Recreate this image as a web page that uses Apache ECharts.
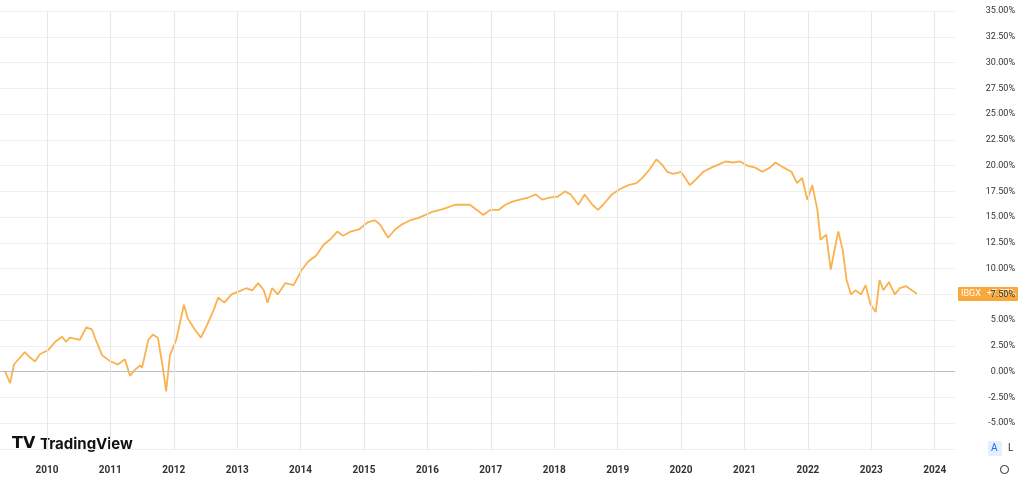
<!DOCTYPE html>
<html>
<head>
<meta charset="utf-8">
<script src="https://cdn.jsdelivr.net/npm/echarts@6/dist/echarts.min.js"></script>
<style>
  html, body { margin: 0; padding: 0; background: #fff; }
  #chart { width: 1024px; height: 485px; }
</style>
</head>
<body>
<div id="chart"></div>
<script>
// 时间 (年份小数)
var years = [2009.34, 2009.42, 2009.48, 2009.58, 2009.65, 2009.73, 2009.81, 2009.89, 2010.02, 2010.13,
  2010.24, 2010.3, 2010.36, 2010.52, 2010.62, 2010.71, 2010.77, 2010.87, 2011.0, 2011.12,
  2011.23, 2011.31, 2011.39, 2011.47, 2011.5, 2011.6, 2011.67, 2011.75, 2011.82, 2011.88,
  2011.94, 2012.04, 2012.1, 2012.16, 2012.22, 2012.33, 2012.43, 2012.53, 2012.63, 2012.7,
  2012.8, 2012.91, 2013.03, 2013.14, 2013.24, 2013.33, 2013.42, 2013.48, 2013.55, 2013.64,
  2013.76, 2013.89, 2014.02, 2014.12, 2014.25, 2014.36, 2014.46, 2014.58, 2014.67, 2014.79,
  2014.92, 2015.06, 2015.17, 2015.25, 2015.38, 2015.49, 2015.6, 2015.73, 2015.85, 2015.96,
  2016.07, 2016.2, 2016.3, 2016.43, 2016.54, 2016.67, 2016.78, 2016.88, 2016.99, 2017.12,
  2017.23, 2017.34, 2017.46, 2017.59, 2017.71, 2017.81, 2017.92, 2018.06, 2018.17, 2018.26,
  2018.38, 2018.48, 2018.6, 2018.69, 2018.77, 2018.91, 2019.03, 2019.17, 2019.3, 2019.39,
  2019.5, 2019.61, 2019.7, 2019.78, 2019.88, 2020.0, 2020.14, 2020.26, 2020.35, 2020.48,
  2020.59, 2020.7, 2020.82, 2020.93, 2021.04, 2021.17, 2021.28, 2021.4, 2021.49, 2021.62,
  2021.74, 2021.83, 2021.91, 2021.99, 2022.07, 2022.15, 2022.2, 2022.29, 2022.36, 2022.42,
  2022.48, 2022.55, 2022.61, 2022.68, 2022.75, 2022.84, 2022.91, 2022.99, 2023.07, 2023.13,
  2023.19, 2023.28, 2023.37, 2023.45, 2023.55, 2023.64, 2023.72];
// IBGX 涨跌幅 (%)
var values = [0.0, -1.1, 0.7, 1.4, 1.9, 1.4, 1.0, 1.7, 2.1, 2.9,
  3.4, 2.9, 3.3, 3.1, 4.3, 4.1, 3.1, 1.6, 1.0, 0.7,
  1.2, -0.4, 0.2, 0.6, 0.4, 3.1, 3.6, 3.3, 0.7, -1.9,
  1.6, 3.1, 4.8, 6.5, 5.2, 4.1, 3.3, 4.6, 6.0, 7.2,
  6.7, 7.5, 7.8, 8.1, 7.9, 8.6, 7.9, 6.7, 8.1, 7.5,
  8.6, 8.4, 9.9, 10.7, 11.3, 12.3, 12.8, 13.6, 13.2, 13.6,
  13.8, 14.5, 14.7, 14.3, 13.0, 13.8, 14.3, 14.7, 14.9, 15.2,
  15.5, 15.7, 15.9, 16.2, 16.2, 16.2, 15.7, 15.2, 15.7, 15.7,
  16.2, 16.5, 16.7, 16.9, 17.2, 16.7, 16.9, 17.0, 17.5, 17.2,
  16.2, 17.2, 16.2, 15.7, 16.2, 17.2, 17.7, 18.1, 18.3, 18.8,
  19.6, 20.6, 20.1, 19.4, 19.2, 19.4, 18.1, 18.8, 19.4, 19.8,
  20.1, 20.4, 20.3, 20.4, 20.0, 19.8, 19.4, 19.8, 20.3, 19.8,
  19.4, 18.3, 18.8, 16.7, 18.1, 15.7, 12.8, 13.3, 9.9, 11.8,
  13.6, 11.8, 8.9, 7.5, 7.9, 7.5, 8.4, 6.5, 5.8, 8.9,
  7.9, 8.7, 7.5, 8.1, 8.3, 7.9, 7.57];
var yearTicks = [2010, 2011, 2012, 2013, 2014, 2015, 2016, 2017, 2018, 2019, 2020, 2021, 2022, 2023, 2024];
var lastLabel = 'IBGX  +7.57%';

var data = years.map(function (y, i) { return [y, values[i]]; });

var myChart = echarts.init(document.getElementById('chart'));
var option = {
    animation: false,
    backgroundColor: '#fff',
    grid: {
        left: 0,
        right: 69,
        top: 11,
        bottom: 36
    },
    xAxis: {
        type: 'value',
        min: 2009.26,
        max: 2024.32,
        axisLine: { show: false },
        axisTick: { show: false },
        axisLabel: {
            customValues: yearTicks,
            margin: 16,
            fontSize: 10,
            fontWeight: 'bold',
            color: '#333',
            fontFamily: 'Roboto',
            formatter: function (v) { return String(Math.round(v)); }
        },
        splitLine: { show: false }
    },
    yAxis: {
        type: 'value',
        position: 'right',
        min: -7.5,
        max: 35,
        interval: 2.5,
        axisLine: { show: false },
        axisTick: { show: false },
        axisLabel: {
            margin: 60,
            align: 'right',
            fontSize: 9,
            color: '#333',
            fontFamily: 'Roboto',
            formatter: function (v) {
                return (v === -7.5) ? '' : v.toFixed(2) + '%';
            }
        },
        splitLine: { lineStyle: { color: '#eeeeee' } }
    },
    series: [{
        type: 'line',
        data: data,
        showSymbol: false,
        lineStyle: { color: '#f9b24e', width: 1.8 },
        z: 3,
        markLine: {
            silent: true,
            symbol: 'none',
            label: { show: false },
            lineStyle: { color: '#bdbdbd', type: 'solid', width: 1 },
            data: [{ yAxis: 0 }]
        }
    }, {
        type: 'line',
        data: [],
        z: 1,
        markLine: {
            silent: true,
            symbol: 'none',
            label: { show: false },
            lineStyle: { color: '#e6e6e6', type: 'solid', width: 1 },
            data: yearTicks.map(function (y) { return { xAxis: y }; })
        }
    }],
    graphic: [
        { type: 'rect', left: 958, top: 287, shape: { width: 60, height: 14 }, style: { fill: '#f9a83a' } },
        { type: 'text', left: 961, top: 289, style: { text: 'IBGX', fill: '#fff', fontSize: 9, fontFamily: 'Roboto' } },
        { type: 'text', right: 8, top: 289, style: { text: '+7.57%', fill: '#fff', fontSize: 9, fontFamily: 'Roboto' } },
        { type: 'text', left: 12, top: 436, style: { text: 'TV', fill: '#111', fontSize: 16, fontWeight: 'bold', fontFamily: 'DejaVu Sans' } },
        { type: 'text', left: 40, top: 437, style: { text: 'TradingView', fill: '#111', fontSize: 15, fontWeight: 'bold', fontFamily: 'Inter' } },
        { type: 'rect', left: 988, top: 441, shape: { width: 14, height: 15, r: 2 }, style: { fill: '#e3effd' } },
        { type: 'text', left: 991, top: 443, style: { text: 'A', fill: '#2962ff', fontSize: 10, fontFamily: 'Roboto' } },
        { type: 'text', left: 1008, top: 443, style: { text: 'L', fill: '#333', fontSize: 10, fontFamily: 'Roboto' } },
        { type: 'circle', left: 998, top: 463, shape: { r: 4 }, style: { fill: 'none', stroke: '#555', lineWidth: 1.2 } }
    ]
};
myChart.setOption(option);
</script>
</body>
</html>
